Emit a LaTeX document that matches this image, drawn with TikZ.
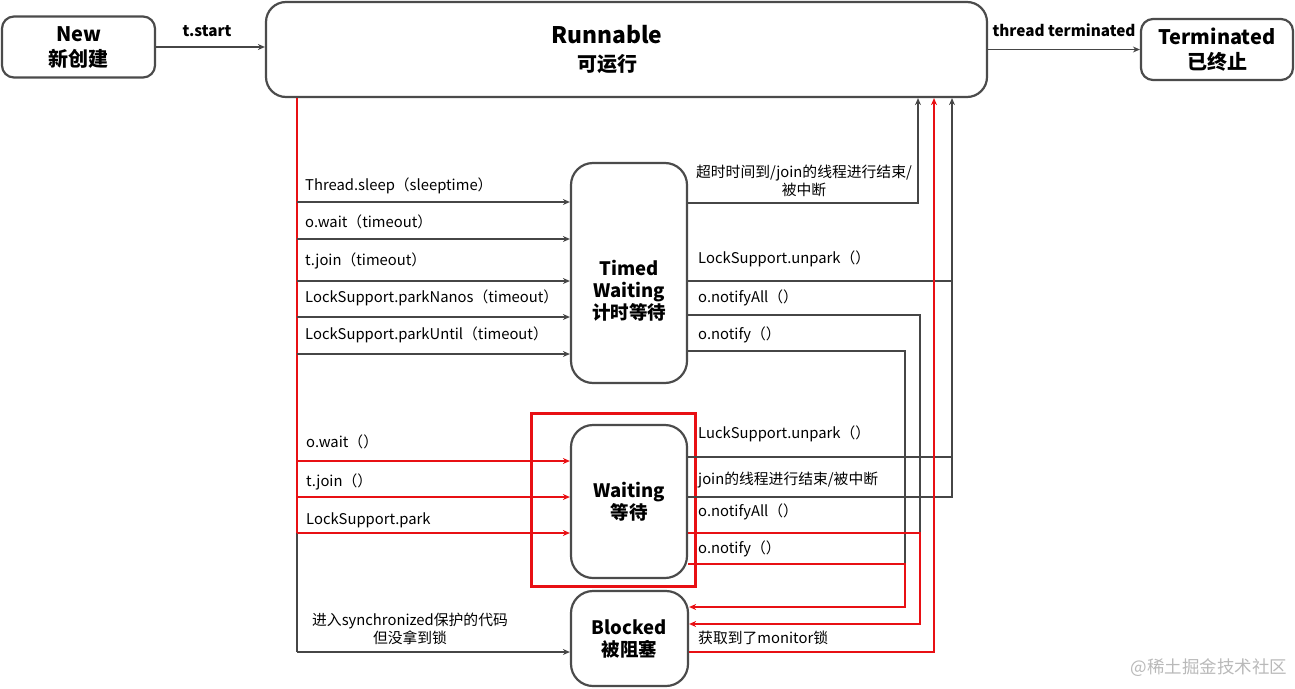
\documentclass[tikz,border=0pt]{standalone}
\usepackage{fontspec}
\setmainfont{Noto Sans CJK SC}
\usetikzlibrary{positioning}
\usetikzlibrary{arrows.meta,calc}
\definecolor{boxgray}{RGB}{75,75,75}
\definecolor{linegray}{RGB}{70,70,70}
\definecolor{redline}{RGB}{232,16,20}
\tikzset{
    every picture/.style={>={Stealth[length=7pt,width=6pt]},x=1pt,y=-1pt},
    stbox/.style={draw=boxgray,line width=2.2pt,rounded corners=12pt,align=center,inner sep=0pt,fill=white},
    bigtxt/.style={font=\bfseries\fontsize{20}{25}\selectfont},
    midtxt/.style={font=\bfseries\fontsize{18.5}{22}\selectfont},
    lbl/.style={font=\fontsize{14.8}{18}\selectfont,inner sep=0pt,anchor=west},
    gline/.style={draw=linegray,line width=1.1pt},
    rline/.style={draw=redline,line width=1.4pt},
}
\begin{document}
\begin{tikzpicture}
\useasboundingbox (0,0) rectangle (1295,688);

% states
\node[stbox,bigtxt,minimum width=153pt,minimum height=61pt] (new) at (78.5,47) {New\\新创建};
\node[stbox,rounded corners=20pt,minimum width=721pt,minimum height=95pt] (run) at (626.5,49.5) {};
\node[align=center,font=\bfseries\fontsize{22.8}{28}\selectfont] (runlbl) at (607,49) {Runnable\\{\fontsize{20}{24}\selectfont 可运行}};
\node[stbox,bigtxt,minimum width=152pt,minimum height=61pt] (term) at (1217,49.5) {Terminated\\已终止};
\node[draw=redline,line width=3pt,minimum width=164pt,minimum height=173pt] (wfrm) at (613,499.5) {};
\node[stbox,rounded corners=22pt,minimum width=116pt,minimum height=220pt] (tw) at (629,273) {};
\node[midtxt,align=center] (twlbl) at (629,291) {Timed\\Waiting\\计时等待};
\node[stbox,midtxt,rounded corners=22pt,minimum width=116pt,minimum height=153pt] (wt) at (629,501.5) {Waiting\\等待};
\node[stbox,midtxt,rounded corners=22pt,minimum width=117pt,minimum height=95pt] (bl) at (629.5,638.5) {Blocked\\被阻塞};

% top row
\draw[gline,->] (new.east) -- (new.east -| run.west);
\node[font=\bfseries\fontsize{15.3}{18}\selectfont] (tstart) at (207,31) {t.start};
\draw[gline,->] (run.east |- term.west) -- (term.west);
\node[font=\bfseries\fontsize{15.3}{18}\selectfont] (tterm) at (1064,30) {thread terminated};

% left trunk
\coordinate (trk) at (297,0);
\draw[rline] (run.south -| trk) -- (trk |- 0,533);
\draw[gline] (trk |- 0,533) -- (trk |- 0,652);

\foreach \y/\ly/\t in {202/186/Thread.sleep（sleeptime）, 239/222/o.wait（timeout）, 281/261/t.join（timeout）, 317/298/LockSupport.parkNanos（timeout）, 354/335/LockSupport.parkUntil（timeout）}{
  \draw[gline,->] (trk |- 0,\y) -- (tw.west |- 0,\y);
  \node[lbl] at (305,\ly) {\t};
}
\foreach \y/\ly/\t in {461/442/o.wait（）, 497/482/t.join（）, 533/520/LockSupport.park}{
  \draw[rline,->] (trk |- 0,\y) -- (wt.west |- 0,\y);
  \node[lbl] at (306,\ly) {\t};
}
\draw[gline,->] (trk |- 0,652) -- (bl.west |- 0,652);
\node[font=\fontsize{14.8}{18}\selectfont,align=center] (sync) at (410,629) {进入synchronized保护的代码\\但没拿到锁};

% right side
\coordinate (up1) at (918,0);
\coordinate (up2) at (934,0);
\coordinate (up3) at (952,0);
\coordinate (dn1) at (905,0);
\coordinate (dn2) at (920,0);

\draw[gline,->] (tw.east |- 0,203) -| (run.south -| up1);
\node[font=\fontsize{14.8}{18}\selectfont,align=center] (tout) at (804,181) {超时时间到/join的线程进行结束/\\被中断};
\draw[gline] (tw.east |- 0,281) -- (up3 |- 0,281);
\draw[gline] (wt.east |- 0,457) -- (up3 |- 0,457);
\draw[gline,->] (wt.east |- 0,497) -| (run.south -| up3);
\draw[gline] (tw.east |- 0,315) -| (dn2 |- 0,533);
\draw[gline] (tw.east |- 0,351) -| (dn1 |- 0,564);
\draw[rline,->] (wt.east |- 0,533) -| (dn2 |- 0,560) |- (bl.east |- 0,624);
\draw[rline,->] (wt.east |- 0,564) -| (dn1 |- 0,590) |- (bl.east |- 0,607);
\draw[rline,->] (bl.east |- 0,652) -| (run.south -| up2);

\node[lbl] at (698,259) {LockSupport.unpark（）};
\node[lbl] at (698,298) {o.notifyAll（）};
\node[lbl] at (698,335) {o.notify（）};
\node[lbl] at (698,434) {LuckSupport.unpark（）};
\node[lbl] at (698,480) {join的线程进行结束/被中断};
\node[lbl] at (698,512) {o.notifyAll（）};
\node[lbl] at (698,549) {o.notify（）};
\node[lbl] at (698,638) {获取到了monitor锁};

\node[text=gray!55,font=\fontsize{17.5}{20}\selectfont] (wm) at (1209,668) {@稀土掘金技术社区};
\end{tikzpicture}
\end{document}
